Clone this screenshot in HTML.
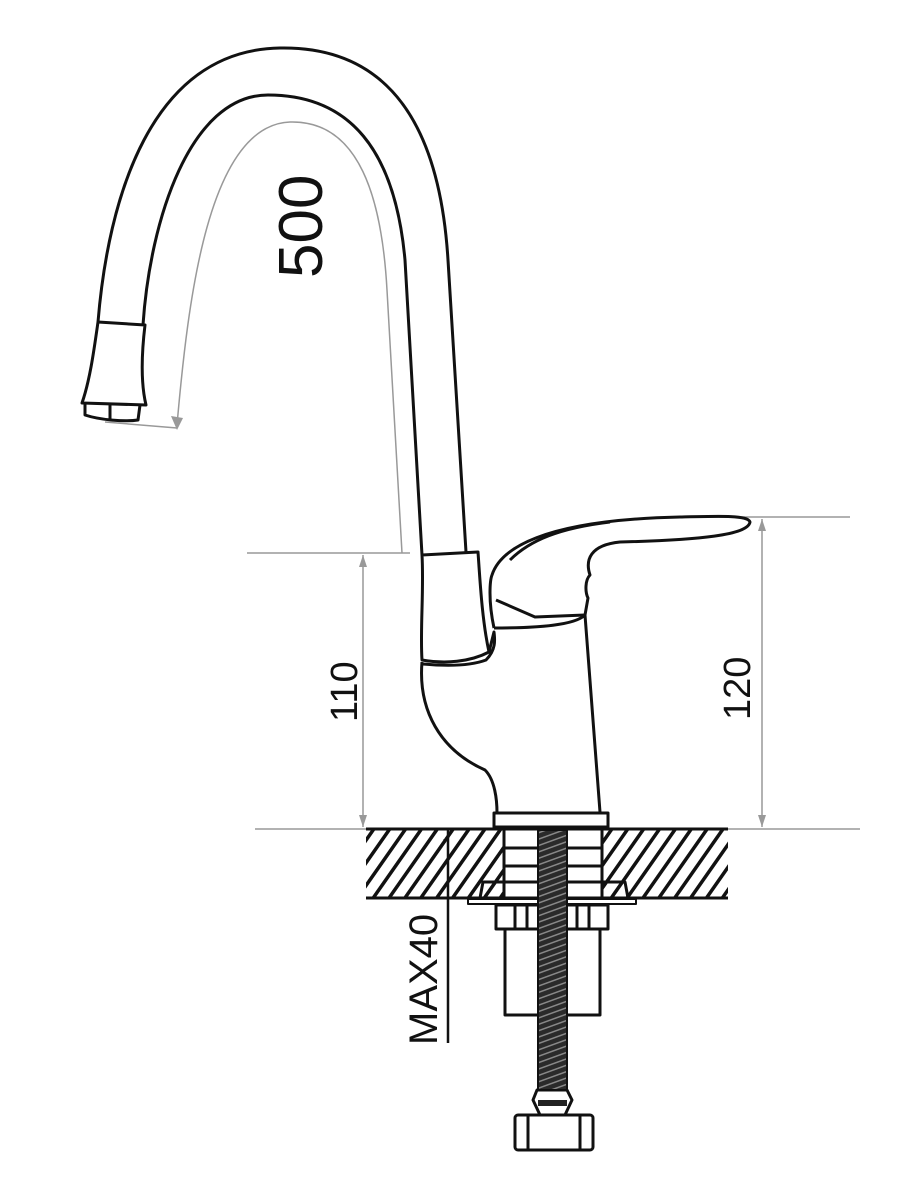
<!DOCTYPE html>
<html><head><meta charset="utf-8"><style>
html,body{margin:0;padding:0;background:#fff;}
svg{display:block;}
text{font-family:"Liberation Sans",sans-serif;}
</style></head><body>
<svg width="900" height="1200" viewBox="0 0 900 1200" xmlns="http://www.w3.org/2000/svg">
<defs>
<pattern id="hatch" width="13" height="13" patternUnits="userSpaceOnUse" patternTransform="rotate(35)">
<rect width="13" height="13" fill="#fff"/>
<rect x="0" y="0" width="3.5" height="13" fill="#111"/>
</pattern>
<pattern id="thread" width="6" height="6" patternUnits="userSpaceOnUse" patternTransform="rotate(-20)">
<rect width="6" height="6" fill="#2a2a2a"/>
<rect y="0" width="6" height="1.5" fill="#888"/>
</pattern>
</defs>

<!-- grey dimension lines -->
<g stroke="#999" stroke-width="1.5" fill="none">
<line x1="255" y1="829" x2="860" y2="829"/>
<line x1="247" y1="553" x2="410" y2="553"/>
<line x1="363" y1="555" x2="363" y2="827"/>
<line x1="680" y1="517" x2="850" y2="517"/>
<line x1="762" y1="519" x2="762" y2="827"/>
<path d="M177,425 C188,300 208,125 290,122 C360,120 382,200 387,290 L402,553"/>
<line x1="105" y1="422" x2="177" y2="428"/>
</g>
<g fill="#999">
<polygon points="363,555 359,567 367,567"/>
<polygon points="363,827 359,815 367,815"/>
<polygon points="762,519 758,531 766,531"/>
<polygon points="762,827 758,815 766,815"/>
<polygon points="177,430 171,416 183,418"/>
</g>

<!-- countertop hatch -->
<rect x="366" y="830" width="138" height="68" fill="url(#hatch)"/>
<rect x="603" y="830" width="125" height="68" fill="url(#hatch)"/>
<line x1="366" y1="829" x2="728" y2="829" stroke="#111" stroke-width="3"/>
<line x1="366" y1="898" x2="728" y2="898" stroke="#111" stroke-width="3"/>

<!-- MAX40 dimension -->
<line x1="448" y1="830" x2="448" y2="1043" stroke="#111" stroke-width="2.5"/>
<text transform="translate(437,1045) rotate(-90)" font-size="40" fill="#111">MAX40</text>

<g fill="none" stroke="#111" stroke-width="3" stroke-linejoin="round">
<!-- spout -->
<path d="M98,322 C108,200 150,50 280,48 C392,46 440,130 448,260 L466,552"/>
<path d="M143,325 C150,220 190,95 268,95 C350,95 395,150 405,260 L422,555"/>
<!-- nozzle -->
<path d="M98,322 L145,325 C142,350 140,380 146,405 L82,403 C90,380 94,350 98,322 Z" fill="#fff"/>
<path d="M85,403 L85,415 C100,420 125,422 138,420 L140,405"/>
<line x1="110" y1="405" x2="110" y2="419"/>
<!-- body collar -->
<path d="M422,555 L478,552 C480,580 482,620 489,652 C470,662 445,664 422,660 C420,630 424,590 422,555 Z" fill="#fff"/>
<path d="M422,662 C418,710 440,750 485,770 C495,780 497,800 497,813"/>
<path d="M489,652 L494,632 C495,640 496,650 486,660 C470,666 445,666 423,664"/>
<!-- handle -->
<path d="M494,628 C540,628 575,625 585,615 L600,812"/>
<path d="M494,628 C488,600 490,580 492,575 C500,550 540,520 680,517 C720,516 748,515 750,522 C748,535 700,540 620,542 C590,545 585,560 590,575 C585,580 585,592 588,598 L585,615"/>
<path d="M496,600 L535,617 L585,615"/>
<path d="M510,560 C530,540 560,528 610,522"/>
<!-- base plate -->
<rect x="494" y="813" width="114" height="14" fill="#fff"/>
<!-- bore parts -->
<line x1="504" y1="830" x2="504" y2="898"/>
<line x1="602" y1="830" x2="602" y2="898"/>
<line x1="504" y1="848" x2="602" y2="848"/>
<line x1="504" y1="866" x2="602" y2="866"/>
<line x1="504" y1="882" x2="602" y2="882"/>
<path d="M480,898 L483,882 L504,882 M602,882 L625,882 L628,898"/>
<rect x="468" y="899" width="168" height="5" fill="#fff" stroke-width="2"/>
<rect x="496" y="905" width="112" height="24" fill="#fff"/>
<line x1="515" y1="905" x2="515" y2="929"/><line x1="527" y1="905" x2="527" y2="929"/>
<line x1="577" y1="905" x2="577" y2="929"/><line x1="589" y1="905" x2="589" y2="929"/>
<rect x="505" y="929" width="95" height="86" fill="#fff"/>
<!-- connector -->
<path d="M537,1090 L567,1090 L572,1100 L565,1115 L540,1115 L533,1100 Z" fill="#fff"/>
<rect x="515" y="1115" width="78" height="35" rx="3" fill="#fff"/>
<line x1="528" y1="1115" x2="528" y2="1150"/><line x1="580" y1="1115" x2="580" y2="1150"/>
</g>
<!-- threaded stud -->
<rect x="538" y="830" width="29" height="260" fill="url(#thread)" stroke="#111" stroke-width="2"/>
<rect x="538" y="1100" width="29" height="6" fill="#222"/>

<!-- labels -->
<text transform="translate(322,278) rotate(-90)" font-size="62" fill="#111">500</text>
<text transform="translate(357,722) rotate(-90)" font-size="38" fill="#111">110</text>
<text transform="translate(750,720) rotate(-90)" font-size="38" fill="#111">120</text>
</svg>
</body></html>
